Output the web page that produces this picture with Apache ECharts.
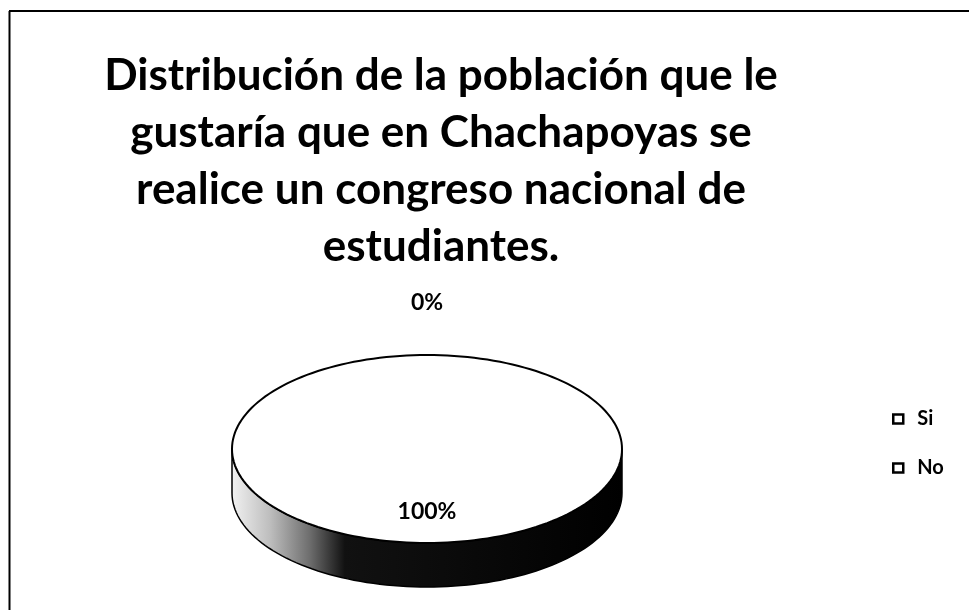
<!DOCTYPE html>
<html>
<head>
<meta charset="utf-8">
<script src="https://cdn.jsdelivr.net/npm/echarts@6/dist/echarts.min.js"></script>
<style>
  html, body { margin: 0; background: #fff; }
  #main { width: 969px; height: 610px; }
</style>
</head>
<body>
<div id="main"></div>
<script>
var categories = ['Si', 'No'];
var values = [0, 100];
var titleText = 'Distribución de la población que le\ngustaría que en Chachapoyas se\nrealice un congreso nacional de\nestudiantes.';

var chart = echarts.init(document.getElementById('main'));
var total = values.reduce(function (a, b) { return a + b; }, 0);
// 3d pie look: elliptic top face plus a front wall
var pie = { cx: 427, cy: 449, rx: 195, ry: 94, depth: 44 };

function pt(a, dy) {
  var r = a * Math.PI / 180;
  return [pie.cx + pie.rx * Math.cos(r), pie.cy - pie.ry * Math.sin(r) + dy];
}
function arc(a0, a1, dy) {
  var pts = [];
  var n = Math.max(2, Math.ceil(Math.abs(a1 - a0) / 2));
  for (var i = 0; i <= n; i++) pts.push(pt(a0 + (a1 - a0) * i / n, dy));
  return pts;
}

function sliceRenderer(idx) {
  return function (params, api) {
    var value = api.value(0);
    var before = 0;
    for (var k = 0; k < idx; k++) before += values[k];
    var start = 90 - 360 * before / total;
    var end = start - 360 * value / total;
    var children = [];

    // front wall (visible where the ellipse faces down)
    [0, -360, 360].forEach(function (shift) {
      var hi = Math.min(start, 0 + shift), lo = Math.max(end, -180 + shift);
      if (hi - lo > 0.01) {
        var pts = arc(hi, lo, 0).concat(arc(lo, hi, pie.depth));
        children.push({
          type: 'polygon',
          shape: { points: pts },
          style: {
            fill: new echarts.graphic.LinearGradient(0, 0, 1, 0, [
              { offset: 0, color: '#f2f2f2' },
              { offset: 0.1, color: '#bdbdbd' },
              { offset: 0.2, color: '#6e6e6e' },
              { offset: 0.29, color: '#111' },
              { offset: 1, color: '#000' }
            ]),
            stroke: '#000',
            lineWidth: 1.5
          }
        });
      }
    });

    // top face
    if (value >= total) {
      children.push({
        type: 'polygon',
        shape: { points: arc(0, 360, 0) },
        style: { fill: '#fff', stroke: '#000', lineWidth: 2 }
      });
    } else if (value > 0) {
      children.push({
        type: 'polygon',
        shape: { points: [[pie.cx, pie.cy]].concat(arc(start, end, 0)) },
        style: { fill: '#fff', stroke: '#000', lineWidth: 2 }
      });
    }

    // percentage label
    var share = value / total;
    var mid = (start + end) / 2 * Math.PI / 180;
    var lx, ly;
    if (share < 0.05) {
      lx = pie.cx + (pie.rx + 52) * Math.cos(mid);
      ly = pie.cy - (pie.ry + 52) * Math.sin(mid);
    } else {
      lx = pie.cx + pie.rx * 0.67 * Math.cos(mid);
      ly = pie.cy - pie.ry * 0.67 * Math.sin(mid);
    }
    children.push({
      type: 'text',
      z2: 10,
      style: {
        text: Math.round(share * 100) + '%',
        x: lx, y: ly,
        fill: '#000',
        font: 'bold 23px Lato',
        align: 'center',
        verticalAlign: 'middle'
      }
    });
    return { type: 'group', children: children };
  };
}

var option = {
  animation: false,
  backgroundColor: '#fff',
  title: {
    text: titleText,
    left: 436,
    top: 42,
    textAlign: 'center',
    textStyle: {
      fontFamily: 'Lato',
      fontWeight: 'bold',
      fontSize: 44,
      lineHeight: 57,
      color: '#000'
    }
  },
  legend: {
    data: categories,
    orient: 'vertical',
    left: 887,
    top: 404,
    icon: 'rect',
    itemWidth: 10,
    itemHeight: 9,
    itemGap: 29,
    selectedMode: false,
    itemStyle: { color: '#fff', borderColor: '#000', borderWidth: 2.5 },
    textStyle: {
      fontFamily: 'Lato',
      fontWeight: 'bold',
      fontSize: 20,
      color: '#000',
      padding: [0, 0, 0, 9]
    }
  },
  graphic: [
    { type: 'line', shape: { x1: 9.5, y1: 11, x2: 9.5, y2: 610 }, style: { stroke: '#000', lineWidth: 2 } },
    { type: 'line', shape: { x1: 9, y1: 11, x2: 969, y2: 11 }, style: { stroke: '#000', lineWidth: 2 } }
  ],
  series: categories.map(function (name, i) {
    return {
      name: name,
      type: 'custom',
      coordinateSystem: 'none',
      itemStyle: { color: '#fff' },
      renderItem: sliceRenderer(i),
      data: [[values[i]]]
    };
  })
};

chart.setOption(option);
</script>
</body>
</html>
